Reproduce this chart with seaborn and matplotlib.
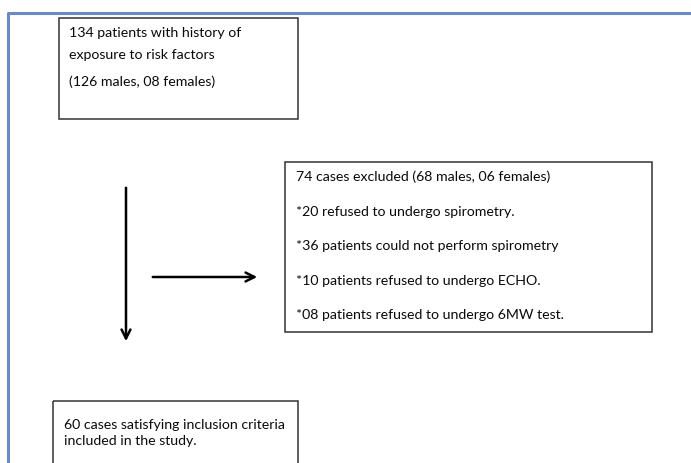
import matplotlib
matplotlib.use("Agg")
import matplotlib.pyplot as plt
from matplotlib.patches import Rectangle
import seaborn as sns
import pandas as pd

# ---- content ----
box1_lines = ["134 patients with history of", "exposure to risk factors", "(126 males, 08 females)"]
box2_lines = ["74 cases excluded (68 males, 06 females)",
              "*20 refused to undergo spirometry.",
              "*36 patients could not perform spirometry",
              "*10 patients refused to undergo ECHO.",
              "*08 patients refused to undergo 6MW test."]
box3_lines = ["60 cases satisfying inclusion criteria", "included in the study."]

sns.set_theme(style="white")
plt.rcParams['font.family'] = ['Lato', 'DejaVu Sans']

fig = plt.figure(figsize=(6.91, 4.63), dpi=100)
ax = fig.add_axes([0, 0, 1, 1])

# blue frame (top and left)
frame = pd.DataFrame({"x": [691, 8.5, 8.5], "y": [13, 13, 470]})
sns.lineplot(data=frame, x="x", y="y", sort=False, estimator=None,
             color="#6a8ac3", lw=2.2, ax=ax)
ax.set_xlim(0, 691)
ax.set_ylim(463, 0)
ax.axis("off")

def box(x0, y0, x1, y1):
    ax.add_patch(Rectangle((x0, y0), x1 - x0, y1 - y0, fill=False,
                           edgecolor="#333333", lw=1.1))

fs = 10.2
# box 1
box(59, 18, 298, 119)
for t, y in zip(box1_lines, [33, 55, 82]):
    ax.text(69, y, t, fontsize=fs, va="center", ha="left", color="#0a0a0a")
# box 2
box(285, 162, 652, 332)
for t, y in zip(box2_lines, [177, 212, 246, 281, 315]):
    ax.text(296, y, t, fontsize=fs, va="center", ha="left", color="#0a0a0a")
# box 3
box(53, 401, 298, 475)
for t, y in zip(box3_lines, [425, 441]):
    ax.text(64, y, t, fontsize=fs, va="center", ha="left", color="#0a0a0a")

# arrows
ax.annotate("", xy=(126, 344), xytext=(126, 185),
            arrowprops=dict(arrowstyle="->", lw=1.8, color="black", mutation_scale=16))
ax.annotate("", xy=(260, 277), xytext=(150, 277),
            arrowprops=dict(arrowstyle="->", lw=1.8, color="black", mutation_scale=16))

fig.savefig("out.png", dpi=100, facecolor="white")
